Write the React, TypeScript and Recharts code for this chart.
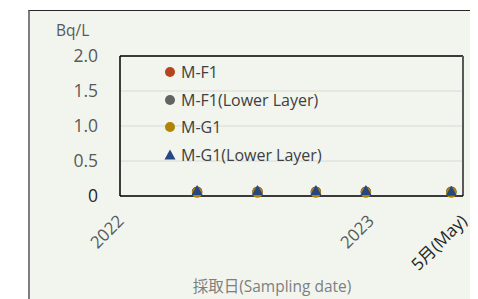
import { ScatterChart, Scatter, XAxis, YAxis, CartesianGrid, ReferenceLine } from 'recharts';

// x = months since 2022-01-01
const xTicks = [0, 12, 16.46];
const xTickLabels = ['2022', '2023', '5月(May)'];
const yTicks = [0, 0.5, 1.0, 1.5, 2.0];
const months = [3.7, 6.6, 9.4, 11.8, 15.9];
const mf1 = [0.06, 0.06, 0.06, 0.06, 0.06];
const mf1Lower = [0.06, 0.06, 0.06, 0.06, 0.06];
const mg1 = [0.05, 0.05, 0.05, 0.05, 0.05];
const mg1Lower = [0.07, 0.07, 0.07, 0.07, 0.06];

const toPoints = (vals: number[]) => months.map((m, i) => ({ x: m, y: vals[i] }));

const series = [
  { name: 'M-F1', data: toPoints(mf1), color: '#b5461c', shape: 'circle' },
  { name: 'M-F1(Lower Layer)', data: toPoints(mf1Lower), color: '#636363', shape: 'circle' },
  { name: 'M-G1', data: toPoints(mg1), color: '#b08300', shape: 'circle' },
  { name: 'M-G1(Lower Layer)', data: toPoints(mg1Lower), color: '#264786', shape: 'triangle' },
];

const FONT = '"Open Sans", "Noto Sans CJK JP", sans-serif';

const Marker = (props: any) => {
  const { cx, cy, fill, shape } = props;
  if (shape === 'triangle') {
    return <path d={`M${cx},${cy - 6} L${cx + 5.5},${cy + 4} L${cx - 5.5},${cy + 4} Z`} fill={fill} />;
  }
  return <circle cx={cx} cy={cy} r={5.2} fill={fill} />;
};

const XTick = (props: any) => {
  const { x, y, payload, index } = props;
  return (
    <text
      x={x + 5}
      y={y + 18}
      transform={`rotate(-45, ${x + 5}, ${y + 18})`}
      textAnchor="end"
      fontSize={17}
      fill={index === 2 ? '#262626' : '#595959'}
      fontFamily={FONT}
    >
      {xTickLabels[index] ?? payload.value}
    </text>
  );
};

const YTick = (props: any) => {
  const { x, y, payload } = props;
  const v = payload.value;
  return (
    <text x={x - 1} y={y} dy={6} textAnchor="end" fontSize={17.5} fill={v === 0 ? '#262626' : '#595959'} fontFamily={FONT}>
      {v === 0 ? '0' : v.toFixed(1)}
    </text>
  );
};

const LegendBox = () => (
  <div style={{ position: 'absolute', left: 156, top: 50, fontFamily: FONT, fontSize: 16, color: '#404040' }}>
    {series.map((s) => (
      <div key={s.name} style={{ display: 'flex', alignItems: 'center', height: 27.7 }}>
        <svg width={12} height={12} style={{ marginRight: 5 }}>
          {s.shape === 'triangle' ? (
            <path d="M6,0.5 L11.5,10.5 L0.5,10.5 Z" fill={s.color} />
          ) : (
            <circle cx={6} cy={6} r={5} fill={s.color} />
          )}
        </svg>
        <span>{s.name}</span>
      </div>
    ))}
  </div>
);

export default function App() {
  return (
    <div style={{ position: 'relative', width: 470, height: 291 }}>
      <div
        style={{
          position: 'absolute',
          left: 20,
          top: 2,
          right: 0,
          bottom: 0,
          background: '#f1f5ee',
          borderLeft: '2px solid #7f7f7f',
          borderTop: '1.5px solid #262626',
        }}
      />
      <div style={{ position: 'absolute', left: 48, top: 11, fontFamily: FONT, fontSize: 15.5, color: '#595959' }}>Bq/L</div>
      <div
        style={{
          position: 'absolute',
          left: 0,
          width: 470,
          top: 266,
          textAlign: 'center',
          paddingLeft: 58,
          boxSizing: 'border-box',
          fontFamily: FONT,
          fontSize: 15.5,
          color: '#7f7f7f',
        }}
      >
        採取日(Sampling date)
      </div>
      <div style={{ position: 'absolute', left: 0, top: 0 }}>
        <ScatterChart width={470} height={291} margin={{ top: 48, right: 15, bottom: 43, left: 0 }}>
          <CartesianGrid horizontal vertical={false} stroke="#d9d9d9" />
          <XAxis
            type="number"
            dataKey="x"
            domain={[0, 16.46]}
            ticks={xTicks}
            tick={<XTick />}
            tickLine={false}
            axisLine={{ stroke: '#000', strokeWidth: 1.5 }}
            height={60}
            interval={0}
            allowDataOverflow
          />
          <YAxis
            type="number"
            dataKey="y"
            domain={[0, 2]}
            ticks={yTicks}
            tick={<YTick />}
            tickLine={false}
            axisLine={{ stroke: '#000', strokeWidth: 1.5 }}
            width={112}
            tickMargin={15}
          />
          <ReferenceLine y={2} stroke="#000" strokeWidth={1.5} />
          <ReferenceLine x={16.46} stroke="#595959" strokeWidth={2} />
          {series.map((s) => (
            <Scatter
              key={s.name}
              name={s.name}
              data={s.data}
              fill={s.color}
              isAnimationActive={false}
              shape={(p: any) => <Marker {...p} fill={s.color} shape={s.shape} />}
            />
          ))}
        </ScatterChart>
      </div>
      <LegendBox />
    </div>
  );
}
